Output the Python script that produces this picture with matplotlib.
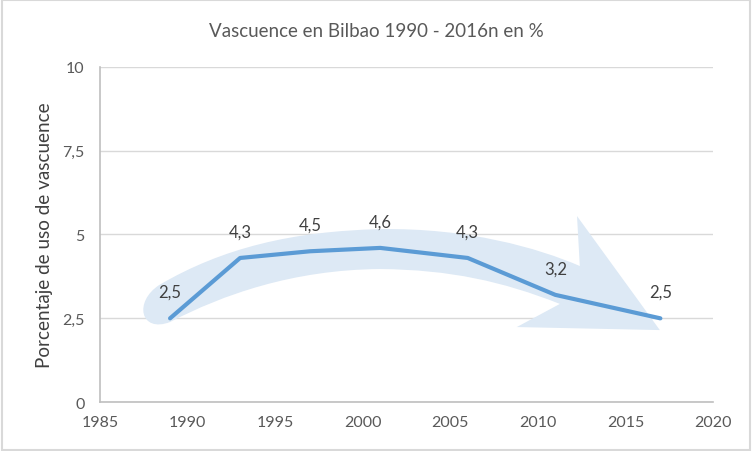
import numpy as np
import matplotlib.pyplot as plt
from matplotlib.path import Path
from matplotlib.patches import PathPatch, Rectangle

YEARS = [1989, 1993, 1997, 2001, 2006, 2011, 2017]
VALUES = [2.5, 4.3, 4.5, 4.6, 4.3, 3.2, 2.5]
X_TICKS = [1985, 1990, 1995, 2000, 2005, 2010, 2015, 2020]
Y_TICKS = [0, 2.5, 5, 7.5, 10]
Y_LABELS = ["0", "2,5", "5", "7,5", "10"]

TITLE = "Vascuence en Bilbao 1990 - 2016n en %"
YLABEL = "Porcentaje de uso de vascuence"

LINE = "#5B9BD5"
ARROW = "#DDE9F5"
GRID = "#D9D9D9"
TXT = "#595959"

plt.rcParams["font.family"] = ["Lato", "DejaVu Sans"]

fig = plt.figure(figsize=(7.52, 4.52), dpi=100)
fig.patches.append(Rectangle((0.002, 0.003), 0.996, 0.994, transform=fig.transFigure,
                             fill=False, edgecolor=GRID, lw=1.5))
ax = fig.add_axes([0.133, 0.108, 0.815, 0.742])

# decorative curved arrow behind the series
verts = [
    (1988.4, 3.5),
    (1992.0, 4.6), (1996.0, 5.1), (2001.0, 5.16),
    (2006.0, 5.2), (2010.0, 4.6), (2012.4, 4.06),
    (2012.24, 5.55),
    (2016.97, 2.15),
    (2008.8, 2.24),
    (2011.26, 2.93),
    (2008.0, 3.6), (2005.0, 3.95), (2001.0, 3.97),
    (1996.0, 3.95), (1992.0, 3.2), (1989.0, 2.39),
    (1987.3, 2.05), (1986.9, 3.0), (1988.4, 3.5),
    (1988.4, 3.5),
]
codes = [Path.MOVETO,
         Path.CURVE4, Path.CURVE4, Path.CURVE4,
         Path.CURVE4, Path.CURVE4, Path.CURVE4,
         Path.LINETO, Path.LINETO, Path.LINETO, Path.LINETO,
         Path.CURVE4, Path.CURVE4, Path.CURVE4,
         Path.CURVE4, Path.CURVE4, Path.CURVE4,
         Path.CURVE4, Path.CURVE4, Path.CURVE4,
         Path.CLOSEPOLY]
ax.add_patch(PathPatch(Path(verts, codes), facecolor=ARROW, edgecolor="none", zorder=1))

ax.plot(YEARS, VALUES, color=LINE, lw=3, solid_capstyle="round", zorder=3)
for x, y in zip(YEARS, VALUES):
    ax.annotate(f"{y:.1f}".replace(".", ","), (x, y), xytext=(0, 19),
                textcoords="offset points", ha="center", va="center",
                fontsize=12, color="#404040", zorder=4)

ax.set_xlim(1985, 2020)
ax.set_ylim(0, 10)
ax.set_xticks(X_TICKS)
ax.set_yticks(Y_TICKS)
ax.set_yticklabels(Y_LABELS)
ax.tick_params(length=0, labelsize=11.5, colors=TXT)
ax.tick_params(axis="y", pad=11)
ax.tick_params(axis="x", pad=9)
ax.yaxis.grid(True, color=GRID, lw=1)
ax.set_axisbelow(True)
for s in ["top", "right"]:
    ax.spines[s].set_visible(False)
for s in ["left", "bottom"]:
    ax.spines[s].set_color("#BFBFBF")
    ax.spines[s].set_linewidth(1.2)

ax.set_ylabel(YLABEL, fontsize=13.6, color="#404040", labelpad=7)
fig.text(0.5, 0.93, TITLE, ha="center", va="center", fontsize=13.5, color=TXT)

fig.savefig("out.png", dpi=100)
